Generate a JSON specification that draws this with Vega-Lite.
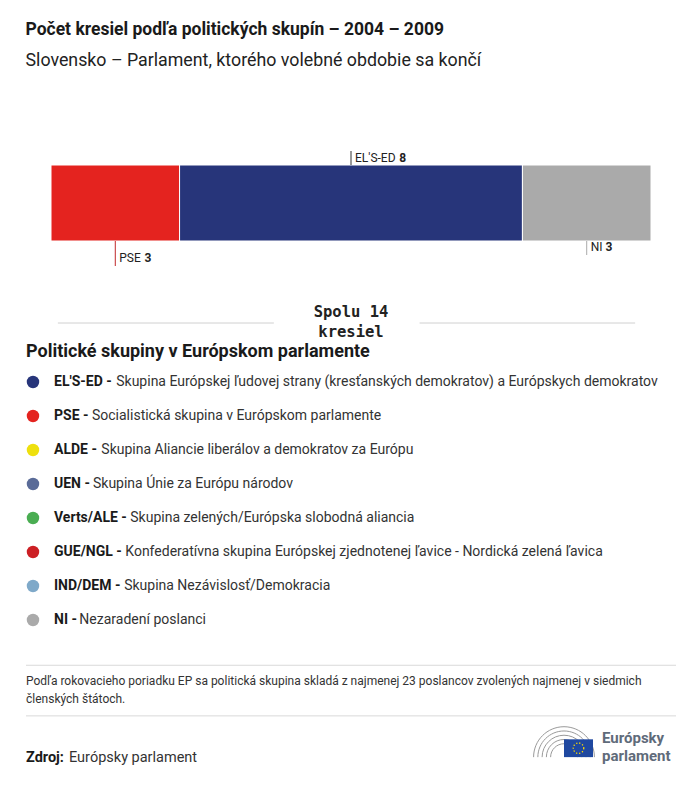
{
  "$schema": "https://vega.github.io/schema/vega-lite/v6.json",
  "background": "white",
  "padding": {"left": 25, "top": 21, "right": 25, "bottom": 0},
  "config": {"font": "Roboto", "view": {"stroke": null}},
  "title": {
    "text": "Počet kresiel podľa politických skupín – 2004 – 2009",
    "subtitle": "Slovensko – Parlament, ktorého volebné obdobie sa končí",
    "anchor": "start",
    "fontSize": 17.5,
    "fontWeight": "bold",
    "color": "#1a1a1a",
    "subtitleFontSize": 17.8,
    "subtitleColor": "#222222",
    "subtitlePadding": 13.3,
    "offset": 71
  },
  "spacing": 2,
  "resolve": {"scale": {"color": "independent"}},
  "vconcat": [
    {
      "width": 650,
      "height": 200,
      "data": {"values": [
        {"group": "PSE", "seats": 3, "order": 1},
        {"group": "EL'S-ED", "seats": 8, "order": 2},
        {"group": "NI", "seats": 3, "order": 3}
      ]},
      "transform": [
        {"stack": "seats", "groupby": [], "sort": [{"field": "order"}], "as": ["x0", "x1"]},
        {"calculate": "(datum.x0 + datum.x1) / 2", "as": "mid"},
        {"calculate": "12*(0.85*length(replace(datum.group, regexp('[^MW]','g'), '')) + 0.28*length(replace(datum.group, regexp('[^I]','g'), '')) + 0.66*length(replace(datum.group, regexp('[^ABCDGHKNOPQRUVXYZ]','g'), '')) + 0.57*length(replace(datum.group, regexp('[^EFJLST]','g'), '')) + 0.17*length(replace(datum.group, regexp('[^\\']','g'), '')) + 0.28*length(replace(datum.group, regexp('[^-]','g'), '')) + 0.42*length(replace(datum.group, regexp('[^/]','g'), '')))", "as": "nw"},
        {"calculate": "datum.mid + (4 + datum.nw + 3.5) / (600 / 14)", "as": "numx"}
      ],
      "layer": [
        {
          "mark": {"type": "bar", "stroke": "white", "strokeWidth": 1},
          "encoding": {
            "x": {"field": "x0", "type": "quantitative", "scale": {"domain": [0, 14], "range": [25, 625]}, "axis": null},
            "x2": {"field": "x1"},
            "y": {"datum": 10, "type": "quantitative", "scale": {"domain": [0, 20]}, "axis": null},
            "y2": {"datum": 17.6},
            "color": {
              "field": "group", "type": "nominal", "legend": null,
              "scale": {
                "domain": ["EL'S-ED", "PSE", "ALDE", "UEN", "Verts/ALE", "GUE/NGL", "IND/DEM", "NI"],
                "range": ["#27357a", "#e4231f", "#eee00e", "#5a6b98", "#4aad52", "#cc1f24", "#7fa9c9", "#aaaaaa"]
              }
            }
          }
        },
        {
          "transform": [{"filter": "datum.group == \"EL'S-ED\""}],
          "layer": [
            {"mark": {"type": "rule", "color": "#333333", "strokeWidth": 1},
             "encoding": {"x": {"field": "mid", "type": "quantitative"}, "y": {"datum": 17.6}, "y2": {"datum": 19}}},
            {"mark": {"type": "text", "align": "left", "baseline": "middle", "dx": 4, "fontSize": 12, "color": "#222222"},
             "encoding": {"x": {"field": "mid", "type": "quantitative"}, "y": {"datum": 18.3}, "text": {"field": "group"}}},
            {"mark": {"type": "text", "align": "left", "baseline": "middle", "fontSize": 12, "fontWeight": "bold", "color": "#222222"},
             "encoding": {"x": {"field": "numx", "type": "quantitative"}, "y": {"datum": 18.3}, "text": {"field": "seats"}}}
          ]
        },
        {
          "transform": [{"filter": "datum.group == 'PSE'"}],
          "layer": [
            {"mark": {"type": "rule", "color": "#c0282a", "strokeWidth": 1},
             "encoding": {"x": {"field": "mid", "type": "quantitative"}, "y": {"datum": 10}, "y2": {"datum": 7.5}}},
            {"mark": {"type": "text", "align": "left", "baseline": "middle", "dx": 4, "fontSize": 12, "color": "#222222"},
             "encoding": {"x": {"field": "mid", "type": "quantitative"}, "y": {"datum": 8.3}, "text": {"field": "group"}}},
            {"mark": {"type": "text", "align": "left", "baseline": "middle", "fontSize": 12, "fontWeight": "bold", "color": "#222222"},
             "encoding": {"x": {"field": "numx", "type": "quantitative"}, "y": {"datum": 8.3}, "text": {"field": "seats"}}}
          ]
        },
        {
          "transform": [{"filter": "datum.group == 'NI'"}],
          "layer": [
            {"mark": {"type": "rule", "color": "#aaaaaa", "strokeWidth": 1},
             "encoding": {"x": {"field": "mid", "type": "quantitative"}, "y": {"datum": 10}, "y2": {"datum": 8.6}}},
            {"mark": {"type": "text", "align": "left", "baseline": "middle", "dx": 4, "fontSize": 12, "color": "#222222"},
             "encoding": {"x": {"field": "mid", "type": "quantitative"}, "y": {"datum": 9.4}, "text": {"field": "group"}}},
            {"mark": {"type": "text", "align": "left", "baseline": "middle", "fontSize": 12, "fontWeight": "bold", "color": "#222222"},
             "encoding": {"x": {"field": "numx", "type": "quantitative"}, "y": {"datum": 9.4}, "text": {"field": "seats"}}}
          ]
        },
        {
          "transform": [
            {"aggregate": [{"op": "sum", "field": "seats", "as": "total"}]},
            {"calculate": "['Spolu ' + datum.total, 'kresiel']", "as": "totlabel"}
          ],
          "layer": [
            {"mark": {"type": "rule", "color": "#d0d0d0", "strokeWidth": 1},
             "encoding": {"x": {"datum": 0.16, "type": "quantitative"}, "x2": {"datum": 5.2}, "y": {"datum": 1.8}}},
            {"mark": {"type": "rule", "color": "#d0d0d0", "strokeWidth": 1},
             "encoding": {"x": {"datum": 8.6, "type": "quantitative"}, "x2": {"datum": 13.63}, "y": {"datum": 1.8}}},
            {"mark": {"type": "text", "align": "center", "baseline": "top", "font": "DejaVu Sans Mono", "fontWeight": "bold", "fontSize": 15.5, "lineHeight": 20, "color": "#222222"},
             "encoding": {"x": {"datum": 7, "type": "quantitative"}, "y": {"datum": 3.6}, "text": {"field": "totlabel"}}}
          ]
        }
      ]
    },
    {
      "width": 650,
      "height": 272,
      "title": {"text": "Politické skupiny v Európskom parlamente", "anchor": "start", "fontSize": 18, "fontWeight": "bold", "color": "#1a1a1a", "offset": 4},
      "data": {"values": [
        {"abbr": "EL'S-ED", "name": "Skupina Európskej ľudovej strany (kresťanských demokratov) a Európskych demokratov"},
        {"abbr": "PSE", "name": "Socialistická skupina v Európskom parlamente"},
        {"abbr": "ALDE", "name": "Skupina Aliancie liberálov a demokratov za Európu"},
        {"abbr": "UEN", "name": "Skupina Únie za Európu národov"},
        {"abbr": "Verts/ALE", "name": "Skupina zelených/Európska slobodná aliancia"},
        {"abbr": "GUE/NGL", "name": "Konfederatívna skupina Európskej zjednotenej ľavice - Nordická zelená ľavica"},
        {"abbr": "IND/DEM", "name": "Skupina Nezávislosť/Demokracia"},
        {"abbr": "NI", "name": "Nezaradení poslanci"}
      ]},
      "transform": [
        {"calculate": "datum.abbr + ' -'", "as": "prefix"},
        {"calculate": "14*1.045*(0.85*length(replace(datum.abbr, regexp('[^MW]','g'), '')) + 0.28*length(replace(datum.abbr, regexp('[^I]','g'), '')) + 0.64*length(replace(datum.abbr, regexp('[^ABCDGHKNOPQRUVXYZ]','g'), '')) + 0.57*length(replace(datum.abbr, regexp('[^EFJLST]','g'), '')) + 0.31*length(replace(datum.abbr, regexp('[^rtfijl]','g'), '')) + 0.5*length(replace(datum.abbr, regexp('[^a-eghkmnopqsuvwxyz]','g'), '')) + 0.2*length(replace(datum.abbr, regexp('[^\\']','g'), '')) + 0.32*length(replace(datum.abbr, regexp('[^-]','g'), '')) + 0.36*length(replace(datum.abbr, regexp('[^/]','g'), '')))", "as": "pw"},
        {"calculate": "28 + datum.pw + 14*1.045*0.78 + 0.5", "as": "descx"}
      ],
      "encoding": {
        "y": {"field": "abbr", "type": "nominal", "sort": ["EL'S-ED", "PSE", "ALDE", "UEN", "Verts/ALE", "GUE/NGL", "IND/DEM", "NI"], "scale": {"type": "point", "padding": 0.5}, "axis": null}
      },
      "layer": [
        {"mark": {"type": "circle", "size": 155, "opacity": 1},
         "encoding": {
           "x": {"datum": 7, "type": "quantitative", "scale": {"domain": [0, 650], "range": [0, 650]}, "axis": null},
           "color": {"field": "abbr", "type": "nominal", "legend": null,
             "scale": {
               "domain": ["EL'S-ED", "PSE", "ALDE", "UEN", "Verts/ALE", "GUE/NGL", "IND/DEM", "NI"],
               "range": ["#27357a", "#e4231f", "#eee00e", "#5a6b98", "#4aad52", "#cc1f24", "#7fa9c9", "#aaaaaa"]
             }}
         }},
        {"mark": {"type": "text", "align": "left", "baseline": "middle", "fontSize": 14, "fontWeight": "bold", "color": "#1a1a1a"},
         "encoding": {"x": {"datum": 28, "type": "quantitative"}, "text": {"field": "prefix"}}},
        {"mark": {"type": "text", "align": "left", "baseline": "middle", "fontSize": 14, "color": "#333333"},
         "encoding": {"x": {"field": "descx", "type": "quantitative"}, "text": {"field": "name"}}}
      ]
    },
    {
      "width": 650,
      "height": 150,
      "data": {"values": [
        {"note": "Podľa rokovacieho poriadku EP sa politická skupina skladá z najmenej 23 poslancov zvolených najmenej v siedmich\nčlenských štátoch.", "label": "Zdroj:", "source": "Európsky parlament", "logo": "Európsky\nparlament"}
      ]},
      "layer": [
        {"mark": {"type": "rule", "color": "#d9d9d9", "strokeWidth": 1},
         "encoding": {
           "x": {"datum": 0, "type": "quantitative", "scale": {"domain": [0, 650], "range": [0, 650]}, "axis": null},
           "x2": {"datum": 650},
           "y": {"datum": 28, "type": "quantitative", "scale": {"domain": [0, 150], "reverse": true}, "axis": null}
         }},
        {"mark": {"type": "rule", "color": "#d9d9d9", "strokeWidth": 1},
         "encoding": {"x": {"datum": 0, "type": "quantitative"}, "x2": {"datum": 650}, "y": {"datum": 82, "type": "quantitative"}}},
        {"mark": {"type": "text", "align": "left", "baseline": "top", "fontSize": 12, "lineHeight": 18, "lineBreak": "\n", "color": "#333333"},
         "encoding": {"x": {"datum": 0, "type": "quantitative"}, "y": {"datum": 39, "type": "quantitative"}, "text": {"field": "note"}}},
        {"mark": {"type": "text", "align": "left", "baseline": "alphabetic", "fontSize": 14.5, "fontWeight": "bold", "color": "#1a1a1a"},
         "encoding": {"x": {"datum": 0, "type": "quantitative"}, "y": {"datum": 131, "type": "quantitative"}, "text": {"field": "label"}}},
        {"mark": {"type": "text", "align": "left", "baseline": "alphabetic", "fontSize": 14.5, "color": "#333333"},
         "encoding": {"x": {"datum": 43, "type": "quantitative"}, "y": {"datum": 131, "type": "quantitative"}, "text": {"field": "source"}}},
        {"mark": {"type": "point", "filled": false, "stroke": "#9a9a9a", "strokeWidth": 1, "opacity": 1, "size": 3700,
                  "shape": "M-1,0A1,1,0,0,1,1,0M-0.86,0A0.86,0.86,0,0,1,0.86,0M-0.72,0A0.72,0.72,0,0,1,0.72,0M-0.58,0A0.58,0.58,0,0,1,0.58,0M-0.44,0A0.44,0.44,0,0,1,0.44,0"},
         "encoding": {"x": {"datum": 538, "type": "quantitative"}, "y": {"datum": 126, "type": "quantitative"}}},
        {"mark": {"type": "rect", "color": "#1f48a0"},
         "encoding": {"x": {"datum": 538, "type": "quantitative"}, "x2": {"datum": 567}, "y": {"datum": 107, "type": "quantitative"}, "y2": {"datum": 126}}},
        {"mark": {"type": "point", "shape": "circle", "filled": false, "stroke": "#ffdd00", "strokeWidth": 1.3, "strokeDash": [1.2, 1.9], "size": 110, "opacity": 1},
         "encoding": {"x": {"datum": 552.5, "type": "quantitative"}, "y": {"datum": 116.5, "type": "quantitative"}}},
        {"mark": {"type": "text", "align": "left", "baseline": "alphabetic", "fontSize": 15, "fontWeight": "bold", "lineBreak": "\n", "lineHeight": 17.5, "color": "#5f6b7a"},
         "encoding": {"x": {"datum": 576, "type": "quantitative"}, "y": {"datum": 111, "type": "quantitative"}, "text": {"field": "logo"}}}
      ]
    }
  ]
}
